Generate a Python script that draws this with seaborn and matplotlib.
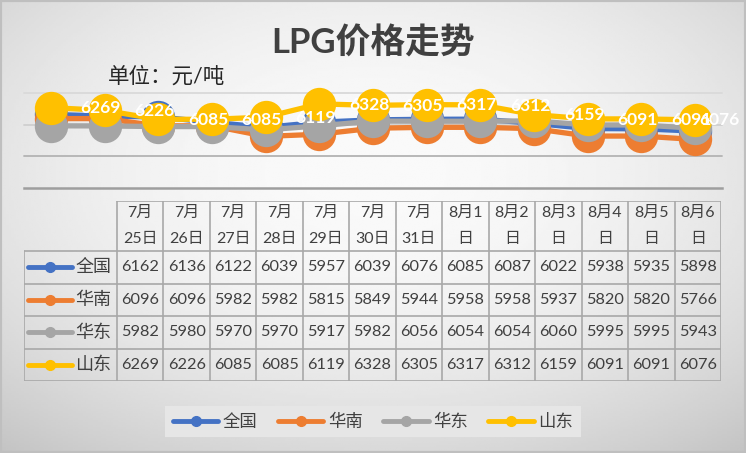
import numpy as np
import pandas as pd
import matplotlib
matplotlib.use('Agg')
import matplotlib.pyplot as plt
import seaborn as sns
from matplotlib.lines import Line2D
from matplotlib.patches import Rectangle

## DATA
dates = ['7月25日', '7月26日', '7月27日', '7月28日', '7月29日', '7月30日', '7月31日',
         '8月1日', '8月2日', '8月3日', '8月4日', '8月5日', '8月6日']
# how the table header wraps each date
header_top = ['7月', '7月', '7月', '7月', '7月', '7月', '7月',
              '8月1', '8月2', '8月3', '8月4', '8月5', '8月6']
header_bottom = ['25日', '26日', '27日', '28日', '29日', '30日', '31日',
                 '日', '日', '日', '日', '日', '日']
quanguo = [6162, 6136, 6122, 6039, 5957, 6039, 6076, 6085, 6087, 6022, 5938, 5935, 5898]
huanan = [6096, 6096, 5982, 5982, 5815, 5849, 5944, 5958, 5958, 5937, 5820, 5820, 5766]
huadong = [5982, 5980, 5970, 5970, 5917, 5982, 6056, 6054, 6054, 6060, 5995, 5995, 5943]
shandong = [6269, 6226, 6085, 6085, 6119, 6328, 6305, 6317, 6312, 6159, 6091, 6091, 6076]
series_names = ['全国', '华南', '华东', '山东']
colors = ['#4472C4', '#ED7D31', '#A5A5A5', '#FFC000']

series = dict(zip(series_names, [quanguo, huanan, huadong, shandong]))
df = pd.DataFrame({'idx': np.arange(len(dates)), 'date': dates})
for name, vals in series.items():
    df[name] = vals
long_df = df.melt(id_vars=['idx', 'date'], value_vars=series_names,
                  var_name='region', value_name='price')

sns.set_theme(style='white')
plt.rcParams['font.family'] = ['Lato', 'Noto Sans CJK SC', 'DejaVu Sans']
W, H = 746, 453
fig = plt.figure(figsize=(W / 100, H / 100), dpi=100)

# background gradient + border
bg = fig.add_axes([0, 0, 1, 1], zorder=-10)
yy, xx = np.mgrid[0:1:200j, 0:1:300j]
d = ((xx - 0.5) / 0.62) ** 2 + ((yy - 0.38) / 0.62) ** 2
grad = np.clip(0.98 - 0.13 * d, 0, 1)
bg.imshow(grad, cmap='gray', vmin=0, vmax=1, extent=[0, 1, 0, 1], aspect='auto', origin='upper')
bg.set_xlim(0, 1); bg.set_ylim(0, 1)
bg.axis('off')
fig.patches.append(Rectangle((0, 0), 1, 1, transform=fig.transFigure, fill=False,
                             edgecolor='#bfbfbf', linewidth=3))

## line chart
ax = fig.add_axes([24 / W, 1 - 188 / H, 698 / W, 95 / H])
ax.patch.set_alpha(0)
for y, c in zip([5500, 6000, 6500], ['#b3b3b3', '#cfcfcf', '#d9d9d9']):
    ax.axhline(y, color=c, lw=1.3, zorder=0)
sns.lineplot(data=long_df, x='idx', y='price', hue='region', hue_order=series_names,
             palette=colors, marker='o', markersize=24, markeredgewidth=0,
             linewidth=3.8, legend=False, sort=False, ax=ax)
for ln in ax.lines:
    ln.set_clip_on(False)
ax.set_xlim(-0.5, len(dates) - 0.5)
ax.set_ylim(5000, 6500)
ax.set_xticks([]); ax.set_yticks([])
ax.set_xlabel(''); ax.set_ylabel('')
for s in ['top', 'left', 'right']:
    ax.spines[s].set_visible(False)
ax.spines['bottom'].set_color('#9e9e9e')
ax.spines['bottom'].set_linewidth(1.8)

# data labels for 山东 (Excel put them one slot to the right)
for i, v in enumerate(shandong):
    ax.text(min(i + 0.93, len(dates) - 0.55), v - 10, str(v), color='white',
            fontsize=12.5, fontweight='bold', ha='center', va='center', zorder=10, clip_on=False)

## titles
fig.text(0.5, 1 - 43 / H, 'LPG价格走势', fontsize=25, fontweight='bold', color='#404040',
         ha='center', va='center')
fig.text(108 / W, 1 - 76 / H, '单位：元/吨', fontsize=15.5, color='#262626',
         ha='left', va='center')

## data table
tab = fig.add_axes([24 / W, 1 - 381 / H, 697 / W, 180 / H])
tab.patch.set_alpha(0)
n = len(dates)
hh = 1.54
tab.set_xlim(-2, n)
tab.set_ylim(4, -hh)
tab.axis('off')
lc, lw = '#a8a8a8', 1.2
tab.plot([0, n], [-hh, -hh], color=lc, lw=lw)
for r in range(5):
    tab.plot([-2, n], [r, r], color=lc, lw=lw)
tab.plot([-2, -2], [0, 4], color=lc, lw=lw)
for j in range(n + 1):
    tab.plot([j, j], [-hh, 4], color=lc, lw=lw)
for j in range(n):
    tab.text(j + 0.5, -1.17, header_top[j], ha='center', va='center', fontsize=11.5, color='#404040')
    tab.text(j + 0.5, -0.36, header_bottom[j], ha='center', va='center', fontsize=11.5, color='#404040')
for i, name in enumerate(series_names):
    tab.plot([-1.91, -0.97], [i + 0.5, i + 0.5], color=colors[i], lw=3.5, solid_capstyle='round')
    tab.plot([-1.44], [i + 0.5], color=colors[i], marker='o', markersize=7)
    tab.text(-0.9, i + 0.5, name, ha='left', va='center', fontsize=13, color='#404040')
    for j, v in enumerate(series[name]):
        tab.text(j + 0.5, i + 0.5, str(v), ha='center', va='center', fontsize=11.8, color='#404040')

## legend
handles = [Line2D([0], [0], color=c, lw=3.5, marker='o', markersize=7, solid_capstyle='round')
           for c in colors]
fig.legend(handles, series_names, loc='center', bbox_to_anchor=(0.5, 1 - 421.5 / H), ncol=4,
           frameon=True, fancybox=False, facecolor='#e6e6e6', edgecolor='none', framealpha=1,
           fontsize=12.5, handlelength=2.6, handletextpad=0.25, columnspacing=1.2,
           borderpad=0.45, labelcolor='#404040')

fig.savefig('out.png', dpi=100)
